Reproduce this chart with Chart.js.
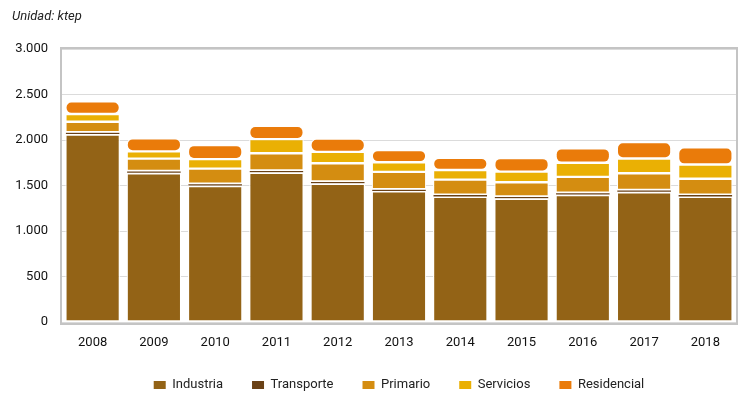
<!DOCTYPE html>
<html>
<head>
<meta charset="utf-8">
<script src="https://cdn.jsdelivr.net/npm/chart.js@4/dist/chart.umd.min.js"></script>
<style>
    html, body { margin: 0; padding: 0; background: #fff; }
    #wrap { width: 750px; height: 395px; }
</style>
</head>
<body>
<div id="wrap"><canvas id="consumoChart" width="750" height="395"></canvas></div>
<script>
"use strict";
var years = ["2008", "2009", "2010", "2011", "2012", "2013", "2014", "2015", "2016", "2017", "2018"];
var industria   = [2060, 1635, 1495, 1640, 1520, 1435, 1375, 1355, 1395, 1425, 1375];
var transporte  = [25, 25, 25, 25, 25, 25, 25, 25, 25, 25, 25];
var primario    = [115, 135, 165, 190, 200, 190, 165, 155, 175, 185, 175];
var servicios   = [85, 80, 105, 155, 125, 105, 105, 118, 155, 162, 155];
var residencial = [140, 145, 155, 145, 145, 135, 135, 150, 160, 180, 190];
var yTicks = [0, 500, 1000, 1500, 2000, 2500, 3000];

var fontFam = "Roboto, 'Liberation Sans', sans-serif";

function serie(label, data, color, bw) {
    return {
        label: label,
        data: data,
        backgroundColor: color,
        borderColor: "#ffffff",
        borderWidth: bw,
        borderRadius: 6,
        borderSkipped: false
    };
}

// frame round the plot area + small legend shift
var framePlugin = {
    id: "frame",
    afterLayout: function (chart) {
        chart.legend.top -= 2.5;
        chart.legend.bottom -= 2.5;
    },
    beforeDatasetsDraw: function (chart) {
        var a = chart.chartArea;
        var ctx = chart.ctx;
        ctx.save();
        ctx.strokeStyle = "#c4c4c4";
        ctx.lineWidth = 2;
        ctx.strokeRect(a.left - 1, a.top - 1, a.right - a.left + 2, a.bottom - a.top + 3);
        ctx.restore();
    }
};

var ctx = document.getElementById("consumoChart");
var myChart = new Chart(ctx, {
    type: "bar",
    data: {
        labels: years,
        datasets: [
            serie("Industria", industria, "#936316", 1.2),
            serie("Transporte", transporte, "#6a4116", 0.5),
            serie("Primario", primario, "#d48d11", 1.2),
            serie("Servicios", servicios, "#eab004", 1.2),
            serie("Residencial", residencial, "#ea7b0a", 1.2)
        ]
    },
    options: {
        responsive: false,
        animation: false,
        devicePixelRatio: 1,
        layout: { padding: { left: 12, right: 14, top: 0, bottom: 0 } },
        datasets: { bar: { categoryPercentage: 1.0, barPercentage: 0.89 } },
        plugins: {
            title: {
                display: true,
                text: "Unidad: ktep",
                align: "start",
                color: "#222",
                font: { family: fontFam, size: 13, style: "italic", weight: "normal" },
                padding: { top: 9, bottom: 24.4 }
            },
            legend: {
                position: "bottom",
                fullSize: false,
                maxHeight: 43,
                labels: {
                    boxWidth: 12,
                    boxHeight: 8,
                    padding: 29,
                    color: "#222",
                    font: { family: fontFam, size: 13 },
                    generateLabels: function (chart) {
                        var items = Chart.defaults.plugins.legend.labels.generateLabels(chart);
                        items.forEach(function (it) { it.lineWidth = 0; });
                        return items;
                    }
                }
            },
            tooltip: { enabled: false }
        },
        scales: {
            x: {
                stacked: true,
                grid: { display: false, drawTicks: false },
                border: { display: false },
                ticks: {
                    color: "#111",
                    padding: 13,
                    font: { family: fontFam, size: 13 }
                },
                afterFit: function (scale) { scale.height = 30; }
            },
            y: {
                stacked: true,
                min: 0,
                max: 3000,
                z: 1,
                afterBuildTicks: function (scale) {
                    scale.ticks = yTicks.map(function (v) { return { value: v }; });
                },
                grid: { color: "rgba(190,190,190,0.55)", lineWidth: 1, drawTicks: false },
                border: { display: false },
                ticks: {
                    color: "#111",
                    padding: 14,
                    font: { family: fontFam, size: 13 },
                    callback: function (v) {
                        return String(v).replace(/\B(?=(\d{3})+(?!\d))/g, ".");
                    }
                },
                afterFit: function (scale) { scale.width = 50; }
            }
        }
    },
    plugins: [framePlugin]
});
</script>
</body>
</html>
